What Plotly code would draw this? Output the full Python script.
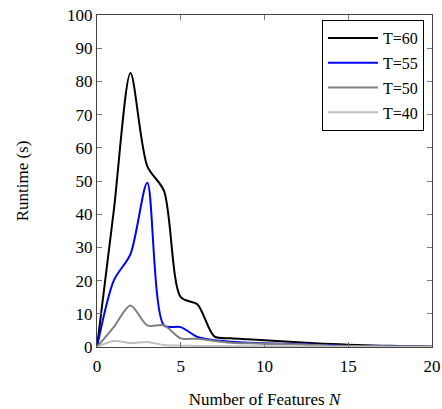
import plotly.graph_objects as go

features = list(range(0, 21))
t60 = [0, 41, 82.5, 54.5, 47, 15, 12.8, 3.2, 2.6, 2.3, 2.0, 1.7, 1.4, 1.1, 0.9, 0.7, 0.5, 0.4, 0.3, 0.2, 0.1]
t55 = [0, 20, 28, 49.5, 6.5, 6, 3, 2, 1.6, 1.3, 1.1, 1.0, 0.9, 0.7, 0.5, 0.3, 0.25, 0.2, 0.15, 0.1, 0.05]
t50 = [0, 6, 12.5, 6.5, 6.5, 2.6, 2.5, 1.8, 1.3, 1.1, 1.0, 0.9, 0.8, 0.6, 0.4, 0.3, 0.25, 0.2, 0.15, 0.1, 0.05]
t40 = [0, 1.8, 1.2, 1.5, 0.6, 0.4, 0.3, 0.3, 0.25, 0.2, 0.2, 0.2, 0.15, 0.15, 0.1, 0.1, 0.1, 0.05, 0.05, 0.05, 0.0]

series = [("T=60", t60, "#000000"), ("T=55", t55, "#0000ff"),
          ("T=50", t50, "#808080"), ("T=40", t40, "#bfbfbf")]

fig = go.Figure()
for name, ys, col in series:
    fig.add_trace(go.Scatter(x=features, y=ys, mode="lines", name=name, legendgroup=name,
                             line=dict(color=col, width=2, shape="spline", smoothing=0.8)))

fam = "Liberation Serif, DejaVu Serif, serif"
font = dict(family=fam, size=17, color="black")
axis_common = dict(showline=True, linecolor="#444", linewidth=1, mirror="ticks",
                   ticks="inside", ticklen=5, tickcolor="#777", showgrid=False,
                   zeroline=False, tickfont=font, automargin=False)
fig.update_layout(
    width=442, height=409,
    margin=dict(l=97, r=10, t=15, b=62),
    plot_bgcolor="white", paper_bgcolor="white",
    font=font,
    showlegend=True,
    legend=dict(x=0.976, y=0.985, xanchor="right", yanchor="top",
                bordercolor="black", borderwidth=1, bgcolor="white",
                font=dict(family=fam, size=16),
                itemwidth=50, tracegroupgap=1),
    xaxis=dict(range=[0, 20], tickvals=[0, 5, 10, 15, 20], ticklabelstandoff=4,
               title=dict(text="Number of Features <i>N</i>", font=font, standoff=18), **axis_common),
    yaxis=dict(range=[0, 100], tickvals=list(range(0, 101, 10)),
               title=dict(text="Runtime (s)", font=font, standoff=34), **axis_common),
)
fig.write_html("out.html", config={"displayModeBar": False},
               post_script="document.body.style.margin='0';document.body.style.overflow='hidden';")
